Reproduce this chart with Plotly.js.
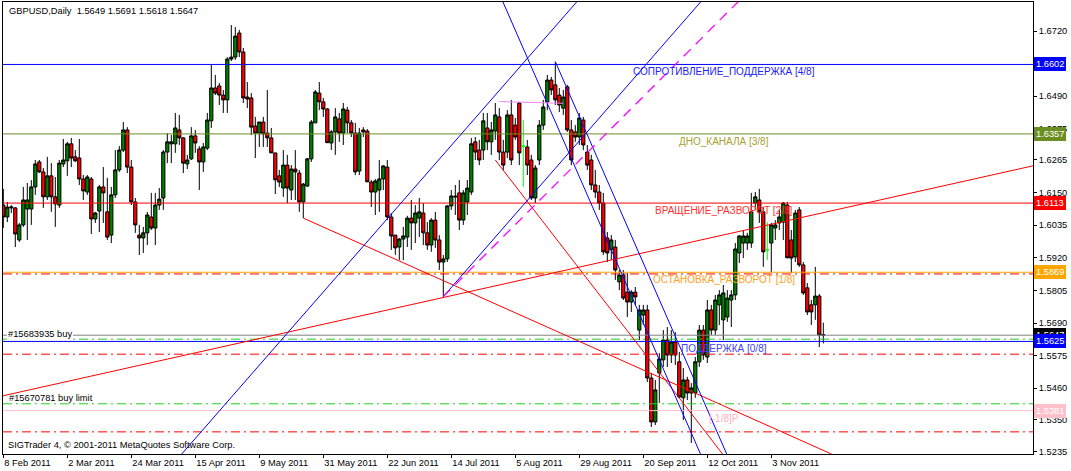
<!DOCTYPE html>
<html><head><meta charset="utf-8">
<script src="https://cdn.plot.ly/plotly-3.0.1.min.js"></script>
<style>html,body{margin:0;padding:0;background:#fff;overflow:hidden}#chart{width:1071px;height:471px}</style>
</head><body><div id="chart"></div>
<script>
// ---- data ----
const tickLabels = ['8 Feb 2011','2 Mar 2011','24 Mar 2011','15 Apr 2011','9 May 2011','31 May 2011','22 Jun 2011','14 Jul 2011','5 Aug 2011','29 Aug 2011','20 Sep 2011','12 Oct 2011','3 Nov 2011'];
const tickBars = [0,16,32,48,64,80,96,112,128,144,160,176,192];
const priceTicks = [1.6720,1.6490,1.6375,1.6265,1.6150,1.6035,1.5920,1.5805,1.5690,1.5575,1.5460,1.5350,1.5235];

const open = [
1.6106,1.6064,1.6096,1.6096,1.5983,1.6036,1.6092,1.6092,1.6170,1.6258,
1.6223,1.6135,1.6209,1.6135,1.6106,1.6251,1.6262,1.6322,1.6276,1.6272,
1.6198,1.6152,1.6198,1.6057,1.6085,1.6170,1.6082,1.6000,1.6142,1.6230,
1.6300,1.6371,1.6240,1.6117,1.6000,1.5990,1.6008,1.6064,1.6025,1.6106,
1.6131,1.6293,1.6322,1.6322,1.6371,1.6343,1.6251,1.6269,1.6350,1.6304,
1.6258,1.6307,1.6403,1.6519,1.6526,1.6494,1.6477,1.6621,1.6628,1.6713,
1.6646,1.6487,1.6484,1.6385,1.6360,1.6399,1.6360,1.6343,1.6290,1.6209,
1.6166,1.6247,1.6159,1.6233,1.6219,1.6117,1.6173,1.6269,1.6396,1.6501,
1.6470,1.6445,1.6325,1.6364,1.6410,1.6360,1.6441,1.6396,1.6360,1.6226,
1.6371,1.6367,1.6187,1.6152,1.6159,1.6198,1.6240,1.6064,1.6000,1.5958,
1.5986,1.5993,1.6060,1.6043,1.6060,1.6078,1.6008,1.5965,1.6053,1.5983,
1.5905,1.5916,1.6103,1.6138,1.6149,1.6053,1.6117,1.6152,1.6329,1.6300,
1.6300,1.6378,1.6329,1.6367,1.6417,1.6293,1.6293,1.6424,1.6388,1.6466,
1.6314,1.6311,1.6265,1.6131,1.6265,1.6388,1.6470,1.6547,1.6530,1.6494,
1.6448,1.6523,1.6371,1.6364,1.6346,1.6406,1.6293,1.6265,1.6177,1.6152,
1.6113,1.5990,1.5948,1.5958,1.5835,1.5859,1.5799,1.5764,1.5799,1.5665,
1.5718,1.5736,1.5496,1.5341,1.5514,1.5560,1.5630,1.5577,1.5623,1.5553,
1.5426,1.5489,1.5443,1.5443,1.5553,1.5665,1.5570,1.5736,1.5665,1.5754,
1.5701,1.5711,1.5771,1.5789,1.5937,1.5972,1.5972,1.5972,1.6113,1.6124,
1.6082,1.5948,1.5972,1.6025,1.6043,1.6046,1.6106,1.5983,1.5923,1.6089,
1.5895,1.5814,1.5754,1.5754,1.5785,1.5649];
const high = [
1.6163,1.6117,1.6106,1.6099,1.6043,1.6170,1.6184,1.6194,1.6265,1.6265,
1.6237,1.6276,1.6254,1.6205,1.6265,1.6339,1.6329,1.6343,1.6300,1.6339,
1.6212,1.6212,1.6205,1.6082,1.6177,1.6240,1.6202,1.6170,1.6300,1.6314,
1.6399,1.6381,1.6265,1.6131,1.6036,1.6029,1.6082,1.6149,1.6149,1.6166,
1.6300,1.6360,1.6353,1.6431,1.6424,1.6346,1.6283,1.6381,1.6371,1.6314,
1.6325,1.6431,1.6600,1.6565,1.6537,1.6512,1.6628,1.6741,1.6734,1.6724,
1.6660,1.6540,1.6501,1.6417,1.6399,1.6417,1.6512,1.6378,1.6290,1.6230,
1.6300,1.6283,1.6247,1.6300,1.6230,1.6184,1.6272,1.6406,1.6512,1.6540,
1.6484,1.6448,1.6371,1.6448,1.6431,1.6466,1.6452,1.6406,1.6396,1.6378,
1.6381,1.6374,1.6194,1.6198,1.6265,1.6247,1.6265,1.6078,1.6000,1.5990,
1.6029,1.6068,1.6124,1.6106,1.6131,1.6113,1.6046,1.6060,1.6082,1.6000,
1.5930,1.6106,1.6159,1.6177,1.6194,1.6159,1.6194,1.6343,1.6346,1.6336,
1.6431,1.6431,1.6399,1.6466,1.6448,1.6336,1.6441,1.6477,1.6413,1.6470,
1.6406,1.6336,1.6283,1.6247,1.6406,1.6477,1.6565,1.6558,1.6611,1.6519,
1.6512,1.6530,1.6406,1.6388,1.6431,1.6417,1.6318,1.6283,1.6230,1.6177,
1.6149,1.6011,1.6000,1.5983,1.5877,1.5877,1.5866,1.5806,1.5817,1.5754,
1.5754,1.5754,1.5514,1.5489,1.5584,1.5665,1.5676,1.5665,1.5658,1.5588,
1.5531,1.5500,1.5478,1.5570,1.5683,1.5683,1.5771,1.5754,1.5789,1.5806,
1.5824,1.5806,1.5806,1.5972,1.6000,1.6018,1.6008,1.6149,1.6152,1.6163,
1.6099,1.6046,1.6043,1.6053,1.6089,1.6117,1.6117,1.6018,1.6089,1.6099,
1.5905,1.5831,1.5771,1.5888,1.5792,1.5691];
const low = [
1.6025,1.6046,1.6078,1.5958,1.5976,1.6029,1.5983,1.6036,1.6142,1.6219,
1.6096,1.6124,1.6082,1.6029,1.6096,1.6240,1.6209,1.6240,1.6258,1.6177,
1.6124,1.6142,1.6004,1.6043,1.6011,1.6043,1.5983,1.5972,1.6131,1.6223,
1.6293,1.6219,1.6106,1.6008,1.5930,1.5937,1.5965,1.6018,1.5965,1.6089,
1.6089,1.6254,1.6254,1.6290,1.6318,1.6219,1.6233,1.6265,1.6290,1.6159,
1.6223,1.6300,1.6378,1.6494,1.6459,1.6431,1.6431,1.6614,1.6618,1.6628,
1.6466,1.6448,1.6353,1.6272,1.6311,1.6311,1.6311,1.6290,1.6145,1.6170,
1.6135,1.6113,1.6124,1.6124,1.6082,1.6060,1.6170,1.6258,1.6396,1.6441,
1.6417,1.6325,1.6300,1.6283,1.6329,1.6318,1.6360,1.6346,1.6212,1.6212,
1.6346,1.6187,1.6099,1.6071,1.6082,1.6159,1.6053,1.5948,1.5930,1.5912,
1.5912,1.5958,1.5948,1.5972,1.5993,1.5965,1.5948,1.5941,1.5955,1.5877,
1.5782,1.5905,1.6089,1.6071,1.6018,1.6036,1.6071,1.6142,1.6265,1.6247,
1.6265,1.6300,1.6283,1.6336,1.6265,1.6230,1.6272,1.6247,1.6336,1.6247,
1.6170,1.6212,1.6124,1.6113,1.6247,1.6371,1.6441,1.6494,1.6459,1.6434,
1.6424,1.6364,1.6247,1.6329,1.6318,1.6300,1.6230,1.6159,1.6131,1.6089,
1.5930,1.5905,1.5912,1.5842,1.5806,1.5771,1.5711,1.5729,1.5754,1.5630,
1.5683,1.5482,1.5323,1.5330,1.5408,1.5535,1.5535,1.5549,1.5542,1.5426,
1.5348,1.5418,1.5267,1.5426,1.5535,1.5560,1.5549,1.5648,1.5648,1.5683,
1.5630,1.5694,1.5676,1.5771,1.5902,1.5919,1.5948,1.5955,1.6089,1.6043,
1.5888,1.5912,1.5870,1.5983,1.6018,1.5983,1.5919,1.5866,1.5905,1.5888,
1.5789,1.5718,1.5683,1.5701,1.5605,1.5618];
const close = [
1.6064,1.6099,1.6099,1.6004,1.6036,1.6124,1.6124,1.6170,1.6251,1.6223,
1.6135,1.6209,1.6135,1.6110,1.6254,1.6265,1.6322,1.6272,1.6262,1.6198,
1.6156,1.6205,1.6057,1.6078,1.6170,1.6149,1.5993,1.6142,1.6230,1.6300,
1.6371,1.6240,1.6117,1.6036,1.5990,1.6008,1.6071,1.6025,1.6106,1.6127,
1.6293,1.6329,1.6329,1.6378,1.6343,1.6254,1.6265,1.6350,1.6325,1.6258,
1.6311,1.6406,1.6519,1.6501,1.6494,1.6477,1.6621,1.6628,1.6702,1.6646,
1.6484,1.6480,1.6381,1.6360,1.6399,1.6357,1.6343,1.6290,1.6195,1.6187,
1.6247,1.6166,1.6233,1.6223,1.6117,1.6180,1.6269,1.6399,1.6505,1.6470,
1.6445,1.6326,1.6364,1.6417,1.6360,1.6445,1.6396,1.6360,1.6223,1.6360,
1.6364,1.6188,1.6152,1.6191,1.6198,1.6244,1.6064,1.5997,1.5955,1.5986,
1.5997,1.6060,1.6043,1.6078,1.6082,1.6008,1.5965,1.6053,1.5983,1.5905,
1.5916,1.6103,1.6138,1.6135,1.6053,1.6149,1.6166,1.6322,1.6293,1.6265,
1.6403,1.6329,1.6371,1.6424,1.6293,1.6247,1.6424,1.6265,1.6346,1.6290,
1.6314,1.6247,1.6131,1.6237,1.6388,1.6452,1.6547,1.6512,1.6477,1.6459,
1.6487,1.6371,1.6265,1.6346,1.6413,1.6318,1.6247,1.6177,1.6152,1.6113,
1.5941,1.5937,1.5983,1.5877,1.5859,1.5778,1.5764,1.5799,1.5782,1.5736,
1.5736,1.5496,1.5341,1.5454,1.5563,1.5630,1.5577,1.5623,1.5577,1.5429,
1.5489,1.5443,1.5461,1.5553,1.5665,1.5577,1.5736,1.5665,1.5771,1.5789,
1.5796,1.5778,1.5789,1.5951,1.5997,1.5997,1.5997,1.6082,1.6135,1.6082,
1.5941,1.5948,1.6036,1.6036,1.6064,1.6113,1.5920,1.5919,1.6078,1.5895,
1.5796,1.5729,1.5729,1.5785,1.5648,1.5647];

// Murrey math levels
const murreyLevels = [1.6602, 1.6357, 1.6113, 1.5869, 1.5625, 1.5381];
const murreyNames = ['СОПРОТИВЛЕНИЕ_ПОДДЕРЖКА [4/8]','ДНО_КАНАЛА [3/8]','ВРАЩЕНИЕ_РАЗВОРОТ [2/8]','ОСТАНОВКА_РАЗВОРОТ [1/8]','ПОДДЕРЖКА [0/8]','[-1/8]P'];
// order lines
const orderLevel = 1.5647;
const orderLabel = '#15683935 buy';
const limitLevel = 1.5405;
const limitLabel = '#15670781 buy limit';
const greenStops = [1.5633, 1.5405];
const redStops = [1.5863, 1.5580, 1.5306];
const bidPrice = 1.5647;
// trend lines: [bar0, price0] -> [bar1, price1]
const trendX0 = [75, -10, 123, 30, 110, 120, 138, 124, 110];
const trendY0 = [1.6060, 1.5402, 1.6265, 1.4992, 1.5783, 1.6981, 1.6612, 1.6471, 1.5783];
const trendX1 = [260, 270, 190, 150, 180, 180, 185, 140, 190];
const trendY1 = [1.4894, 1.6284, 1.5042, 1.6930, 1.6914, 1.5044, 1.5094, 1.6465, 1.6912];
const titleText = 'GBPUSD,Daily\u00a0\u00a01.5649 1.5691 1.5618 1.5647';
const copyText = 'SIGTrader 4, © 2001-2011 MetaQuotes Software Corp.';

// ---- styles ----
const FONT = 'Liberation Sans, Arial, sans-serif';
const FS = 9.3;
const trendColors = ['#ff0000','#ff0000','#ff0000','#0000ff','#0000ff','#0000ff','#0000ff','#ee82ee','#ff00ff'];
const trendDash = ['solid','solid','solid','solid','solid','solid','solid','solid','10px,7px'];
const trendWidth = [1,1,1,1,1,1,1,1,1.3];
const murreyLineColors = ['#0000ff','#6b8e23','#ff0000','#ffa500','#0000ff','#ffc0cb'];
const murreyTextColors = ['#2020ff','#a8a030','#ff3030','#ffa020','#4040ff','#ffb0c0'];
const DASHDOT = '9px,4px,2px,4px';

// ---- build ----
const bars = open.map((_, i) => i);
const isDoji = open.map((o, i) => o === close[i]);
const pick = (arr, want) => arr.filter((_, i) => isDoji[i] === want);

const mainTrace = {
  type: 'candlestick', x: pick(bars,false), open: pick(open,false), high: pick(high,false), low: pick(low,false), close: pick(close,false),
  increasing: {line: {color: '#000000', width: 1}, fillcolor: '#008000'},
  decreasing: {line: {color: '#000000', width: 1}, fillcolor: '#ff0000'},
  whiskerwidth: 0, hoverinfo: 'skip'
};
const dojiTrace = {
  type: 'candlestick', x: pick(bars,true), open: pick(open,true), high: pick(high,true), low: pick(low,true), close: pick(close,true),
  increasing: {line: {color: '#00ff00', width: 1}, fillcolor: '#00ff00'},
  decreasing: {line: {color: '#00ff00', width: 1}, fillcolor: '#00ff00'},
  whiskerwidth: 0, hoverinfo: 'skip'
};

const shapes = [];
murreyLevels.forEach((lv, k) => shapes.push({type:'line', xref:'paper', x0:0, x1:1, yref:'y', y0:lv, y1:lv, line:{color:murreyLineColors[k], width:1}}));
shapes.push({type:'line', xref:'paper', x0:0, x1:1, yref:'y', y0:orderLevel, y1:orderLevel, line:{color:'#808080', width:1}});
greenStops.forEach(lv => shapes.push({type:'line', xref:'paper', x0:0, x1:1, yref:'y', y0:lv, y1:lv, line:{color:'#22cc22', width:1, dash:DASHDOT}}));
redStops.forEach(lv => shapes.push({type:'line', xref:'paper', x0:0, x1:1, yref:'y', y0:lv, y1:lv, line:{color:'#ff0000', width:1, dash:DASHDOT}}));
trendX0.forEach((x0, k) => shapes.push({type:'line', xref:'x', yref:'y', x0:x0, y0:trendY0[k], x1:trendX1[k], y1:trendY1[k], line:{color:trendColors[k], width:trendWidth[k], dash:trendDash[k]}}));

const ann = [];
ann.push({xref:'paper', yref:'paper', x:0, y:1, xanchor:'left', yanchor:'middle', xshift:4, yshift:-9, text:titleText, showarrow:false, font:{family:FONT, size:FS, color:'#000'}});
ann.push({xref:'paper', yref:'paper', x:0, y:0, xanchor:'left', yanchor:'middle', xshift:3, yshift:9, text:copyText, showarrow:false, font:{family:FONT, size:FS, color:'#000'}});
murreyLevels.forEach((lv, k) => ann.push({xref:'paper', yref:'y', x:0.7, y:lv, xanchor:'center', yanchor:'middle', yshift:-7.5, text:murreyNames[k], showarrow:false, font:{family:FONT, size:10, color:murreyTextColors[k]}}));
ann.push({xref:'paper', yref:'y', x:0, y:orderLevel, xanchor:'left', yanchor:'middle', xshift:4, yshift:1, text:orderLabel, showarrow:false, bgcolor:'#ffffff', borderpad:1, borderwidth:0, font:{family:FONT, size:FS, color:'#000'}});
ann.push({xref:'paper', yref:'y', x:0, y:limitLevel, xanchor:'left', yanchor:'middle', xshift:4, yshift:6, text:limitLabel, showarrow:false, font:{family:FONT, size:FS, color:'#000'}});
// right-side price tags
const tagLevels = [murreyLevels[0], murreyLevels[1], murreyLevels[2], murreyLevels[3], bidPrice, murreyLevels[4], murreyLevels[5]];
const tagColors = ['#0000ff','#6b8e23','#ff0000','#ffa500','#000000','#0000ff','#ffc0cb'];
tagLevels.forEach((lv, k) => ann.push({xref:'paper', yref:'y', x:1, y:lv, xanchor:'left', yanchor:'middle', xshift:1, text:lv.toFixed(4), showarrow:false, bgcolor:tagColors[k], borderpad:2, borderwidth:0, font:{family:FONT, size:FS, color:'#ffffff'}}));

const layout = {
  width: 1071, height: 471,
  margin: {l:3, r:38, t:2, b:17, pad:0},
  paper_bgcolor: '#ffffff', plot_bgcolor: '#ffffff',
  showlegend: false, hovermode: false,
  boxgap: 0.2, boxgroupgap: 0,
  font: {family: FONT, size: FS, color: '#000'},
  xaxis: {range:[-0.075, 257.425], showgrid:false, zeroline:false, showline:true, mirror:true, linecolor:'#000', linewidth:1,
          ticks:'outside', ticklen:3, tickcolor:'#000', tickvals:tickBars, ticktext:tickLabels, ticklabelposition:'outside right',
          tickfont:{family:FONT, size:FS, color:'#000'}, rangeslider:{visible:false}, fixedrange:true},
  yaxis: {side:'right', range:[1.52279, 1.68223], showgrid:false, zeroline:false, showline:true, mirror:true, linecolor:'#000', linewidth:1,
          ticks:'outside', ticklen:3, tickcolor:'#000', tickvals:priceTicks, tickformat:'.4f',
          tickfont:{family:FONT, size:FS, color:'#000'}, fixedrange:true},
  shapes: shapes, annotations: ann
};
Plotly.newPlot('chart', [mainTrace, dojiTrace], layout, {staticPlot:true, displayModeBar:false});
</script></body></html>
